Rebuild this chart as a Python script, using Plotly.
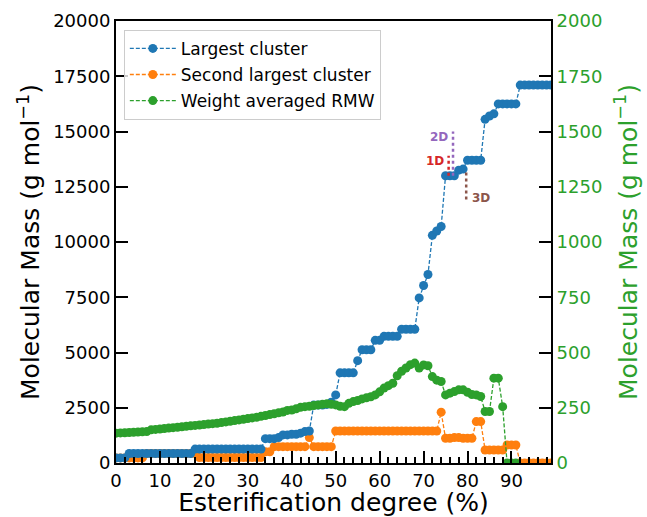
import plotly.graph_objects as go

# Esterification degree (%) for the cluster analysis
degree = list(range(100))

# Molecular mass of the largest cluster (g/mol)
largest = [
    230, 230, 230, 430, 430, 430, 430, 430, 430, 430,
    430, 430, 430, 430, 430, 430, 430, 430, 630, 630,
    630, 630, 630, 630, 630, 630, 630, 630, 630, 630,
    630, 630, 630, 630, 1100, 1100, 1100, 1150, 1270, 1270,
    1300, 1300, 1350, 1420, 1450, 2620, 2620, 2620, 2650, 2750,
    3080, 4080, 4080, 4080, 4080, 4630, 5125, 5125, 5125, 5550,
    5550, 5730, 5730, 5730, 5730, 6050, 6050, 6050, 6050, 7470,
    8030, 8530, 10300, 10500, 10700, 13000, 13000, 13000, 13250, 13300,
    13700, 13700, 13700, 13700, 15550, 15700, 15800, 16250, 16250, 16250,
    16250, 16250, 17100, 17100, 17100, 17100, 17100, 17100, 17100, 17100,
]

# Molecular mass of the second largest cluster (g/mol)
second = [
    230, 230, 230, 230, 230, 230, 230, 430, 430, 430,
    430, 430, 430, 430, 430, 430, 430, 430, 430, 250,
    250, 250, 250, 250, 250, 250, 250, 250, 250, 250,
    250, 250, 250, 250, 510, 510, 740, 740, 740, 740,
    740, 740, 740, 740, 1150, 740, 740, 740, 740, 740,
    1450, 1450, 1450, 1450, 1450, 1450, 1450, 1450, 1450, 1450,
    1450, 1450, 1450, 1450, 1450, 1450, 1450, 1450, 1450, 1450,
    1450, 1450, 1450, 1450, 2300, 1120, 1120, 1150, 1150, 1120,
    1120, 1120, 1875, 1875, 590, 590, 590, 590, 590, 816,
    816, 816, 0, 0, 0, 0, 0, 0, 0, 0,
]

# Weight averaged RMW (g/mol), right axis; no values beyond 91 %
rmw = [
    135, 136, 137, 138, 139, 140, 141, 142, 150, 152,
    154, 156, 158, 160, 162, 164, 166, 168, 170, 172,
    174, 176, 178, 180, 183, 186, 189, 192, 195, 198,
    201, 204, 207, 211, 215, 219, 223, 227, 231, 238,
    240, 245, 252, 255, 257, 260, 263, 266, 268, 266,
    263, 257, 255, 270, 278, 283, 290, 295, 300, 308,
    322, 339, 350, 361, 395, 415, 430, 445, 452, 430,
    444, 440, 391, 375, 369, 308, 316, 323, 331, 331,
    320, 310, 308, 301, 233, 233, 384, 384, 255, 0,
    0, 0, None, None, None, None, None, None, None, None,
]

# Dimensionality markers along the largest-cluster curve
dim_labels = ["1D", "2D", "3D"]
dim_colors = ["#d62728", "#9467bd", "#8c564b"]
dim_x = [75.7, 76.7, 79.7]
dim_y_start = [13000, 13000, 13150]
dim_y_end = [13900, 15000, 11800]

x_ticks = [0, 10, 20, 30, 40, 50, 60, 70, 80, 90]
left_ticks = [0, 2500, 5000, 7500, 10000, 12500, 15000, 17500, 20000]
right_ticks = [0, 250, 500, 750, 1000, 1250, 1500, 1750, 2000]

BLUE, ORANGE, GREEN = "#1f77b4", "#ff7f0e", "#2ca02c"
FONT = "DejaVu Sans"

fig = go.Figure()

line_style = dict(width=1.3, dash="4px,2px")
MSIZE = 9

fig.add_trace(go.Scatter(
    x=degree, y=second, name="Second largest cluster", mode="lines+markers",
    line=dict(color=ORANGE, **line_style), marker=dict(color=ORANGE, size=MSIZE),
    legendgroup="b", legendrank=2, yaxis="y",
))
fig.add_trace(go.Scatter(
    x=degree, y=largest, name="Largest cluster", mode="lines+markers",
    line=dict(color=BLUE, **line_style), marker=dict(color=BLUE, size=MSIZE),
    legendgroup="a", legendrank=1, yaxis="y",
))

for lab, col, xv, y0, y1 in zip(dim_labels, dim_colors, dim_x, dim_y_start, dim_y_end):
    fig.add_trace(go.Scatter(
        x=[xv, xv], y=[y0, y1], mode="lines", showlegend=False,
        line=dict(color=col, width=2.5, dash="dot"), yaxis="y", hoverinfo="skip",
    ))
    if y1 >= y0:
        fig.add_annotation(
            x=xv, y=y1, xref="x", yref="y", text=f"<b>{lab}</b>", showarrow=False,
            xanchor="right", yanchor="middle", xshift=-3, yshift=-5,
            font=dict(family=FONT, size=12, color=col),
        )
    else:
        fig.add_annotation(
            x=xv, y=y1, xref="x", yref="y", text=f"<b>{lab}</b>", showarrow=False,
            xanchor="left", yanchor="middle", xshift=4, yshift=4,
            font=dict(family=FONT, size=12, color=col),
        )

fig.add_trace(go.Scatter(
    x=degree, y=rmw, name="Weight averaged RMW", mode="lines+markers",
    line=dict(color=GREEN, **line_style), marker=dict(color=GREEN, size=MSIZE),
    legendgroup="c", legendrank=3, yaxis="y2", connectgaps=False,
))

axis_common = dict(
    showline=True, linecolor="black", linewidth=2,
    ticks="inside", ticklen=12, tickwidth=2, tickcolor="black",
    showgrid=False, zeroline=False, automargin=False,
    tickformat="d", separatethousands=False,
    tickfont=dict(family=FONT, size=18, color="black"),
)

fig.update_layout(
    width=647, height=517,
    margin=dict(l=116, r=96, t=21, b=54),
    paper_bgcolor="white", plot_bgcolor="white",
    font=dict(family=FONT, color="black"),
    xaxis=dict(
        range=[0, 99], tickvals=x_ticks, mirror=True,
        minor=dict(ticks="inside", dtick=2, tick0=0, ticklen=6, tickwidth=1.5, tickcolor="black"),
        title=dict(text="Esterification degree (%)", font=dict(family=FONT, size=25), standoff=5),
        **axis_common,
    ),
    yaxis=dict(
        range=[0, 20000], tickvals=left_ticks,
        title=dict(text="Molecular Mass (g mol<sup>−1</sup>)", font=dict(family=FONT, size=25), standoff=6),
        **axis_common,
    ),
    yaxis2=dict(
        range=[0, 2000], tickvals=right_ticks, overlaying="y", side="right", anchor="x",
        title=dict(text="Molecular Mass (g mol<sup>−1</sup>)", font=dict(family=FONT, size=25, color=GREEN), standoff=18),
        **{**axis_common, "tickfont": dict(family=FONT, size=18, color=GREEN)},
    ),
    legend=dict(
        x=0.018, y=0.98, xanchor="left", yanchor="top",
        bgcolor="rgba(255,255,255,0.8)", bordercolor="#cccccc", borderwidth=1,
        font=dict(family=FONT, size=17), tracegroupgap=1, itemwidth=46,
    ),
)

fig.write_html("out.html")
